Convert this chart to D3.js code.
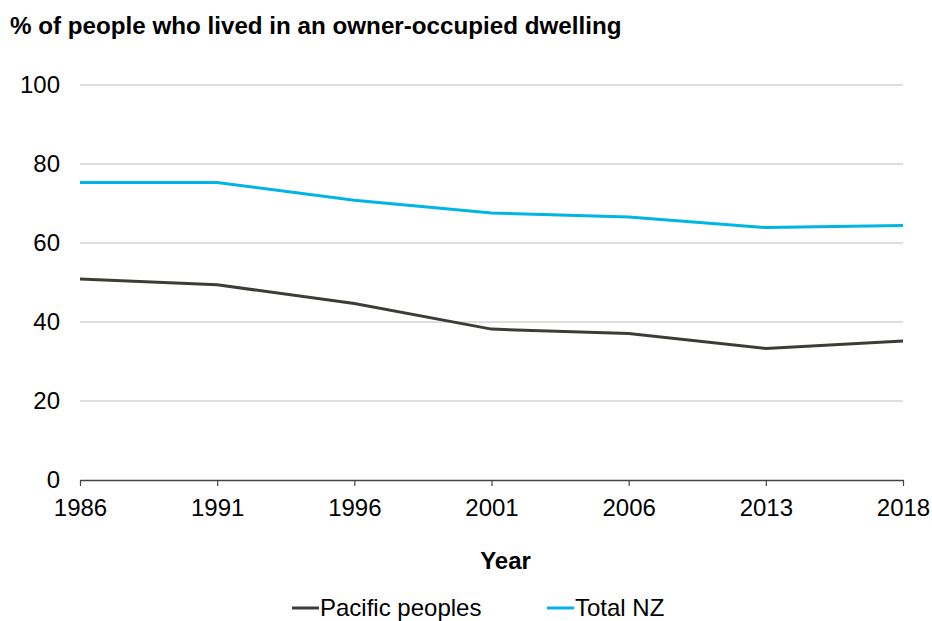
<!DOCTYPE html>
<html>
<head>
<meta charset="utf-8">
<script src="https://cdn.jsdelivr.net/npm/d3@7"></script>
<style>
  body { margin: 0; background: #fff; }
  text { font-family: "Liberation Sans", Arial, sans-serif; }
</style>
</head>
<body>
<div id="chart"></div>
<script>
// data
const years = ["1986", "1991", "1996", "2001", "2006", "2013", "2018"];
const pacific = [50.9, 49.4, 44.7, 38.2, 37.1, 33.3, 35.2];
const totalNZ = [75.3, 75.3, 70.8, 67.6, 66.6, 63.9, 64.4];
const yTicks = [0, 20, 40, 60, 80, 100];

const width = 932, height = 621;
const margin = { top: 85, right: 29, bottom: 141, left: 80 };
const fontSize = 24;

const svg = d3.select("#chart").append("svg")
    .attr("width", width)
    .attr("height", height);

const x = d3.scalePoint()
    .domain(years)
    .range([margin.left, width - margin.right]);

const y = d3.scaleLinear()
    .domain([0, 100])
    .range([height - margin.bottom, margin.top]);

// title
svg.append("text")
    .attr("x", 10)
    .attr("y", 34)
    .attr("font-size", 24.2)
    .attr("font-weight", "bold")
    .text("% of people who lived in an owner-occupied dwelling");

// gridlines
svg.append("g")
    .selectAll("line")
    .data(yTicks.filter(d => d > 0))
    .enter()
    .append("line")
    .attr("x1", margin.left)
    .attr("x2", width - margin.right)
    .attr("y1", d => y(d))
    .attr("y2", d => y(d))
    .attr("stroke", "#bdbdbd")
    .attr("stroke-width", 1.2);

// y axis (labels only)
const yAxis = d3.axisLeft(y).tickValues(yTicks).tickSize(0).tickPadding(0);
const gy = svg.append("g")
    .attr("transform", "translate(" + 60 + ",0)")
    .call(yAxis);
gy.select(".domain").remove();
gy.selectAll("text")
    .attr("font-size", fontSize)
    .attr("fill", "#000")
    .attr("font-family", "Liberation Sans, Arial, sans-serif");

// x axis
const xAxis = d3.axisBottom(x).tickSizeInner(6).tickSizeOuter(0).tickPadding(13);
const gx = svg.append("g")
    .attr("transform", "translate(0," + y(0) + ")")
    .call(xAxis);
gx.select(".domain").attr("stroke", "#444").attr("stroke-width", 1.3);
gx.selectAll(".tick line").attr("stroke", "#444").attr("stroke-width", 1.2);
gx.selectAll("text")
    .attr("font-size", fontSize)
    .attr("fill", "#000")
    .attr("font-family", "Liberation Sans, Arial, sans-serif");

// axis title
svg.append("text")
    .attr("x", 505.5)
    .attr("y", 569)
    .attr("text-anchor", "middle")
    .attr("font-size", fontSize)
    .attr("font-weight", "bold")
    .text("Year");

// lines
const line = d3.line()
    .x((d, i) => x(years[i]))
    .y(d => y(d));

const series = [
    { name: "Pacific peoples", values: pacific, color: "#3d3d38" },
    { name: "Total NZ", values: totalNZ, color: "#00b4e3" }
];

svg.selectAll(".series")
    .data(series)
    .enter()
    .append("path")
    .attr("class", "series")
    .attr("d", d => line(d.values))
    .attr("fill", "none")
    .attr("stroke", d => d.color)
    .attr("stroke-width", 3);

// legend
const legendX = [292, 547];
const leg = svg.selectAll(".legend")
    .data(series)
    .enter()
    .append("g")
    .attr("class", "legend")
    .attr("transform", (d, i) => "translate(" + legendX[i] + ",608)");
leg.append("line")
    .attr("x1", 0).attr("x2", 27)
    .attr("y1", 0).attr("y2", 0)
    .attr("stroke", d => d.color)
    .attr("stroke-width", 3);
leg.append("text")
    .attr("x", 28)
    .attr("y", 8)
    .attr("font-size", fontSize)
    .text(d => d.name);
</script>
</body>
</html>
